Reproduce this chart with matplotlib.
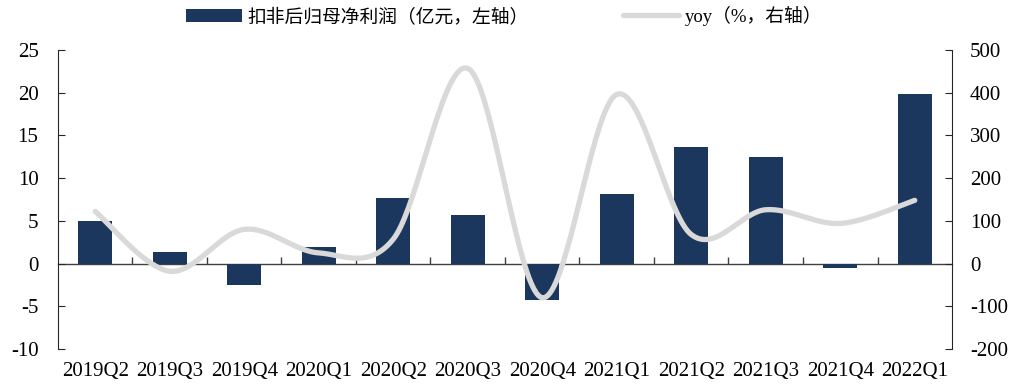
import matplotlib
matplotlib.use("Agg")
import matplotlib.pyplot as plt
import numpy as np

plt.rcParams['font.family'] = ['Liberation Serif', 'Noto Sans CJK SC']
plt.rcParams['axes.unicode_minus'] = False

quarters = ["2019Q2", "2019Q3", "2019Q4", "2020Q1", "2020Q2", "2020Q3",
            "2020Q4", "2021Q1", "2021Q2", "2021Q3", "2021Q4", "2022Q1"]
profit = [5.0, 1.3, -2.5, 1.9, 7.7, 5.7, -4.3, 8.2, 13.6, 12.5, -0.5, 19.8]
yoy = [122, -18, 80, 25, 57, 457, -80, 396, 68, 126, 94, 148]

bar_label = "扣非后归母净利润（亿元，左轴）"
line_label = "yoy（%，右轴）"


def smooth_curve(x, y, steps=40):
    # cubic bezier segments with control points like a spreadsheet "smoothed line"
    x = np.asarray(x, float)
    y = np.asarray(y, float)
    px = np.concatenate([[x[0]], x, [x[-1]]])
    py = np.concatenate([[y[0]], y, [y[-1]]])
    t = np.linspace(0, 1, steps)[:, None]
    xs, ys = [], []
    for i in range(1, len(px) - 2):
        p0 = np.array([px[i], py[i]])
        p3 = np.array([px[i + 1], py[i + 1]])
        c1 = p0 + (p3 - np.array([px[i - 1], py[i - 1]])) / 6
        c2 = p3 - (np.array([px[i + 2], py[i + 2]]) - p0) / 6
        pts = ((1 - t) ** 3) * p0 + 3 * ((1 - t) ** 2) * t * c1 + 3 * (1 - t) * t ** 2 * c2 + t ** 3 * p3
        xs.append(pts[:, 0])
        ys.append(pts[:, 1])
    return np.concatenate(xs), np.concatenate(ys)


fig = plt.figure(figsize=(10.33, 3.89), dpi=100)
ax = fig.add_axes([0.0561, 0.1028, 0.8655, 0.7687])
ax2 = ax.twinx()

xs = np.arange(len(quarters))
bars = ax.bar(xs, profit, width=0.46, color="#1b375d", zorder=2, label=bar_label)

cx, cy = smooth_curve(xs, yoy)
line, = ax2.plot(cx, cy, color="#d9d9d9", lw=3.8, solid_capstyle="round", label=line_label, zorder=3)

ax.set_xlim(-0.5, len(quarters) - 0.5)
ax.set_ylim(-10, 25)
ax.set_yticks(np.arange(-10, 26, 5))
ax2.set_ylim(-200, 500)
ax2.set_yticks(np.arange(-200, 501, 100))

ax.set_zorder(ax2.get_zorder() - 1)
ax.patch.set_visible(True)
ax2.patch.set_visible(False)

# category labels sit at the bottom, ticks at the zero line
ax.set_xticks(xs)
ax.set_xticklabels(quarters)
ax.tick_params(axis='x', length=0, pad=9, labelsize=15)
for sp in ["top", "bottom"]:
    ax.spines[sp].set_visible(False)
    ax2.spines[sp].set_visible(False)
ax2.spines["left"].set_visible(False)
ax.spines["right"].set_visible(False)

zero_frac = 10 / 35
secax = ax.secondary_xaxis(zero_frac)
secax.set_xticks(np.arange(0.5, len(quarters) - 0.5, 1))
secax.tick_params(axis='x', direction='in', length=5, width=1, color="#404040", labelbottom=False, labeltop=False)
secax.spines["bottom"].set_color("#404040")
secax.spines["bottom"].set_linewidth(1)
secax.spines["top"].set_visible(False)

ax.spines["left"].set_color("#262626")
ax2.spines["right"].set_color("#262626")
ax.tick_params(axis='y', direction='in', length=5, pad=14, labelsize=15, color="#262626")
ax2.tick_params(axis='y', direction='in', length=5, pad=13, labelsize=15, color="#262626")

fig.legend(handles=[bars, line], labels=[bar_label, line_label], loc="center",
           bbox_to_anchor=(0.488, 0.959), ncol=2, frameon=False, fontsize=13.5,
           handlelength=3.0, handletextpad=0.3, columnspacing=5.0)

fig.savefig("out.png", dpi=100)
